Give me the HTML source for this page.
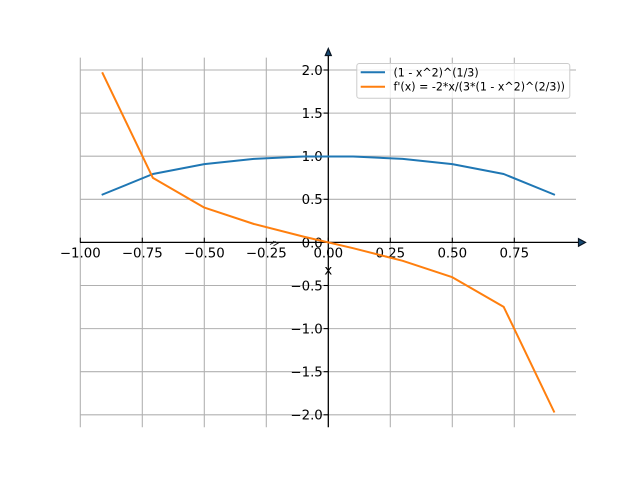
<!DOCTYPE html>
<html>
<head>
<meta charset="utf-8">
<style>
  html, body { margin: 0; padding: 0; background: #fff; }
  svg { display: block; }
  text { font-family: "DejaVu Sans", "Liberation Sans", sans-serif; fill: #000; }
</style>
</head>
<body>
<svg width="640" height="480" viewBox="0 0 640 480" xmlns="http://www.w3.org/2000/svg">
  <rect x="0" y="0" width="640" height="480" fill="#fff"/>

  <!-- grid -->
  <g stroke="#b0b0b0" stroke-width="1.07" fill="none">
    <line x1="80.3" y1="57.6" x2="80.3" y2="427.2"/>
    <line x1="142.3" y1="57.6" x2="142.3" y2="427.2"/>
    <line x1="204.3" y1="57.6" x2="204.3" y2="427.2"/>
    <line x1="266.3" y1="57.6" x2="266.3" y2="427.2"/>
    <line x1="390.3" y1="57.6" x2="390.3" y2="427.2"/>
    <line x1="452.3" y1="57.6" x2="452.3" y2="427.2"/>
    <line x1="514.3" y1="57.6" x2="514.3" y2="427.2"/>

    <line x1="80" y1="70" x2="576" y2="70"/>
    <line x1="80" y1="113.1" x2="576" y2="113.1"/>
    <line x1="80" y1="156.2" x2="576" y2="156.2"/>
    <line x1="80" y1="199.3" x2="576" y2="199.3"/>
    <line x1="80" y1="285.5" x2="576" y2="285.5"/>
    <line x1="80" y1="328.6" x2="576" y2="328.6"/>
    <line x1="80" y1="371.7" x2="576" y2="371.7"/>
    <line x1="80" y1="414.8" x2="576" y2="414.8"/>
  </g>

  <!-- axes spines -->
  <g stroke="#000" stroke-width="1.3" fill="none">
    <line x1="80" y1="242.4" x2="580" y2="242.4"/>
    <line x1="328.3" y1="54" x2="328.3" y2="427.2"/>
  </g>

  <!-- x ticks (upward) -->
  <g stroke="#000" stroke-width="1.07">
    <line x1="80.3" y1="237.7" x2="80.3" y2="242.4"/>
    <line x1="142.3" y1="237.7" x2="142.3" y2="242.4"/>
    <line x1="204.3" y1="237.7" x2="204.3" y2="242.4"/>
    <line x1="266.3" y1="237.7" x2="266.3" y2="242.4"/>
    <line x1="328.3" y1="237.7" x2="328.3" y2="242.4"/>
    <line x1="390.3" y1="237.7" x2="390.3" y2="242.4"/>
    <line x1="452.3" y1="237.7" x2="452.3" y2="242.4"/>
    <line x1="514.3" y1="237.7" x2="514.3" y2="242.4"/>
  </g>
  <!-- y ticks (left) -->
  <g stroke="#000" stroke-width="1.07">
    <line x1="323.6" y1="70" x2="328.3" y2="70"/>
    <line x1="323.6" y1="113.1" x2="328.3" y2="113.1"/>
    <line x1="323.6" y1="156.2" x2="328.3" y2="156.2"/>
    <line x1="323.6" y1="199.3" x2="328.3" y2="199.3"/>
    <line x1="323.6" y1="242.4" x2="328.3" y2="242.4"/>
    <line x1="323.6" y1="285.5" x2="328.3" y2="285.5"/>
    <line x1="323.6" y1="328.6" x2="328.3" y2="328.6"/>
    <line x1="323.6" y1="371.7" x2="328.3" y2="371.7"/>
    <line x1="323.6" y1="414.8" x2="328.3" y2="414.8"/>
  </g>

  <!-- x tick labels -->
  <g font-size="13.33" text-anchor="middle">
    <text x="80.3" y="257.3">−1.00</text>
    <text x="142.3" y="257.3">−0.75</text>
    <text x="204.3" y="257.3">−0.50</text>
    <text x="266.3" y="257.3">−0.25</text>
    <text x="328.3" y="257.3">0.00</text>
    <text x="390.3" y="257.3">0.25</text>
    <text x="452.3" y="257.3">0.50</text>
    <text x="514.3" y="257.3">0.75</text>
  </g>
  <!-- y tick labels -->
  <g font-size="13.33" text-anchor="end">
    <text x="322.8" y="74.9">2.0</text>
    <text x="322.8" y="118.0">1.5</text>
    <text x="322.8" y="161.1">1.0</text>
    <text x="322.8" y="204.2">0.5</text>
    <text x="322.8" y="247.3">0.0</text>
    <text x="322.8" y="290.4">−0.5</text>
    <text x="322.8" y="333.5">−1.0</text>
    <text x="322.8" y="376.6">−1.5</text>
    <text x="322.8" y="419.7">−2.0</text>
  </g>

  <!-- axis label -->
  <text x="328.3" y="274.4" font-size="13.33" text-anchor="middle">x</text>

  <!-- small stray mark -->
  <path d="M270 244.5 L276 241.5 M273 241.2 L278 243.2 L273.5 245.8" stroke="#222" stroke-width="0.9" fill="none"/>

  <!-- series -->
  <polyline fill="none" stroke="#1f77b4" stroke-width="2" stroke-linejoin="round" stroke-linecap="square"
    points="102.6,194.5 152.9,174.0 204.3,164.1 253.9,158.9 303.5,156.5 353.1,156.5 402.7,158.9 452.3,164.1 503.7,174.0 554.0,194.5"/>
  <polyline fill="none" stroke="#ff7f0e" stroke-width="2" stroke-linejoin="round" stroke-linecap="square"
    points="102.6,73.2 152.9,177.9 204.3,207.6 253.9,224.0 303.5,236.6 353.1,248.2 402.7,260.8 452.3,277.2 503.7,306.9 554.0,411.6"/>

  <!-- arrows -->
  <polygon points="578.5,238.6 585.5,242.4 578.5,246.2" fill="#174a73" stroke="#0a1624" stroke-width="1.2"/>
  <polygon points="325.3,55.5 328.3,48.5 331.3,55.5" fill="#174a73" stroke="#0a1624" stroke-width="1.2"/>

  <!-- legend -->
  <rect x="356.8" y="63.5" width="213" height="34.8" rx="2.5" ry="2.5" fill="#fff" fill-opacity="0.8" stroke="#cccccc" stroke-width="1"/>
  <line x1="360.7" y1="72.3" x2="385" y2="72.3" stroke="#1f77b4" stroke-width="2"/>
  <line x1="360.7" y1="86.7" x2="385" y2="86.7" stroke="#ff7f0e" stroke-width="2"/>
  <g font-size="11.05">
    <text x="393.5" y="76.3">(1 - x^2)^(1/3)</text>
    <text x="393.5" y="90.7">f'(x) = -2*x/(3*(1 - x^2)^(2/3))</text>
  </g>
</svg>
</body>
</html>
